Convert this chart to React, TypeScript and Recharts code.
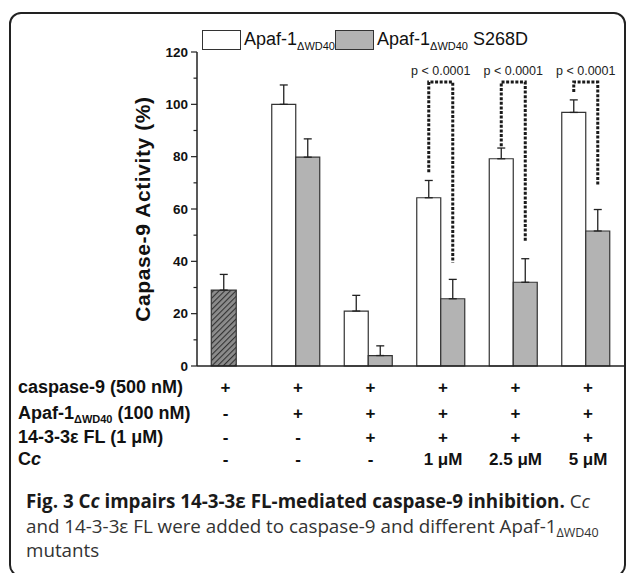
import { BarChart, Bar, XAxis, YAxis, ErrorBar, Rectangle, Label } from 'recharts';

// condition index along the x axis (columns of the table below the plot)
const conditions = [1, 2, 3, 4, 5, 6];

// caspase-9 alone (hatched bar)
const caspaseOnly = [29, null, null, null, null, null];
const caspaseOnlyErr = [6, null, null, null, null, null];

// Apaf-1 ΔWD40 (white) and Apaf-1 ΔWD40 S268D (grey)
const apafWT = [null, 100, 21, 64.3, 79.2, 96.9];
const apafWTErr = [null, 7.4, 6, 6.6, 4.1, 4.8];
const apafS268D = [null, 79.8, 4, 25.7, 32, 51.6];
const apafS268DErr = [null, 7, 3.7, 7.4, 9, 8.2];

// significance brackets (in % activity units)
const bracketTop = [null, null, null, 108.5, 108.5, 108.5];
const bracketLeftEnd = [null, null, null, 74, 84, 104.7];
const bracketRightEnd = [null, null, null, 39.5, 47.7, 68.8];
const pLabels = [null, null, null, 'p < 0.0001', 'p < 0.0001', 'p < 0.0001'];

// table rows under the plot
const rowLabels = ['caspase-9 (500 nM)', 'Apaf-1 (100 nM)', '14-3-3ε FL (1 μM)', 'Cc'];
const caspaseRow = ['+', '+', '+', '+', '+', '+'];
const apafRow = ['-', '+', '+', '+', '+', '+'];
const protRow = ['-', '-', '+', '+', '+', '+'];
const ccRow = ['-', '-', '-', '1 μM', '2.5 μM', '5 μM'];

const yTicks = [0, 10, 20, 30, 40, 50, 60, 70, 80, 90, 100, 110, 120];
const xDomain = [0.6345, 6.524];

const data = conditions.map((cond, i) => ({
  cond,
  ctrl: caspaseOnly[i],
  ctrlErr: caspaseOnlyErr[i] == null ? null : [0, caspaseOnlyErr[i]],
  wt: apafWT[i],
  wtErr: apafWTErr[i] == null ? null : [0, apafWTErr[i]],
  mut: apafS268D[i],
  mutErr: apafS268DErr[i] == null ? null : [0, apafS268DErr[i]],
  top: bracketTop[i],
  leftEnd: bracketLeftEnd[i],
  rightEnd: bracketRightEnd[i],
  p: pLabels[i],
}));

const AXIS = '#222';
const FONT = '"Liberation Sans", Arial, sans-serif';

const YTick = ({ x, y, payload }: any) => {
  const major = payload.value % 20 === 0;
  return (
    <g>
      <line x1={x - (major ? 6 : 3.5)} x2={x} y1={y} y2={y} stroke={AXIS} strokeWidth={1.2} />
      {major && (
        <text x={x - 9} y={y} textAnchor="end" dominantBaseline="central" fontFamily={FONT} fontWeight="bold" fontSize={13.5} fill="#111">
          {payload.value}
        </text>
      )}
    </g>
  );
};

const rows = [caspaseRow, apafRow, protRow, ccRow];
const rowOffsets = [21, 47, 71, 93];

const ConditionTick = ({ x, y, payload }: any) => {
  const i = conditions.indexOf(payload.value);
  return (
    <g>
      {rows.map((row, r) => (
        <text key={r} x={x + 2} y={y + rowOffsets[r]} textAnchor="middle" dominantBaseline="central" fontFamily={FONT} fontWeight="bold" fontSize={17} fill="#111">
          {row[i]}
        </text>
      ))}
    </g>
  );
};

const MutantBar = (props: any) => {
  const { x, y, width, height, payload } = props;
  const base = y + height;
  const k = payload.mut ? height / payload.mut : 0;
  const toY = (v: number) => base - v * k;
  let bracket = null;
  if (payload.top != null && k > 0) {
    const lx = x - width / 2;
    const rx = x + width / 2;
    bracket = (
      <g>
        <path
          d={`M${lx},${toY(payload.leftEnd)} V${toY(payload.top)} H${rx} V${toY(payload.rightEnd)}`}
          fill="none"
          stroke="#1a1a1a"
          strokeWidth={3}
          strokeDasharray="3 1.6"
        />
        <text x={x} y={toY(payload.top) - 11} textAnchor="middle" dominantBaseline="central" fontFamily={FONT} fontSize={12.5} fill="#222">
          {payload.p}
        </text>
      </g>
    );
  }
  return (
    <g>
      <Rectangle x={x} y={y} width={width} height={height} fill="#b3b3b3" stroke="#333" strokeWidth={1.2} />
      {bracket}
    </g>
  );
};

const YLabel = (props: any) => {
  const vb = props.viewBox;
  const cx = vb.x + 10;
  const cy = vb.y + vb.height / 2;
  return (
    <text x={cx} y={cy} transform={`rotate(-90 ${cx} ${cy})`} textAnchor="middle" dominantBaseline="central" fontFamily={FONT} fontWeight="bold" fontSize={21} letterSpacing={0.6} fill="#111">
      Capase-9 Activity (%)
    </text>
  );
};

const LegendItem = ({ left, fill, suffix }: { left: number; fill: string; suffix: string }) => (
  <div style={{ position: 'absolute', left, top: 29, display: 'flex', alignItems: 'center', fontFamily: FONT, fontSize: 18, color: '#111', whiteSpace: 'nowrap' }}>
    <div style={{ width: 37, height: 18, background: fill, border: '1px solid #333', marginRight: 3 }} />
    <span>
      Apaf-1<sub style={{ fontSize: 11, verticalAlign: -5, lineHeight: 0 }}>ΔWD40</sub>
      {suffix}
    </span>
  </div>
);

export default function App() {
  return (
    <div style={{ position: 'relative', width: 627, height: 573, overflow: 'hidden', background: '#fff' }}>
      <style>{'body{margin:0;overflow:hidden}'}</style>
      <div style={{ position: 'absolute', left: 9, top: 12, width: 617, height: 565, border: '2.5px solid #222', borderRadius: 12, boxSizing: 'border-box' }} />

      <LegendItem left={202} fill="#fff" suffix="" />
      <LegendItem left={335} fill="#b3b3b3" suffix=" S268D" />

      <div style={{ position: 'absolute', left: 0, top: 0 }}>
        <BarChart width={627} height={480} data={data} margin={{ top: 52, right: 3, left: 132, bottom: 0 }} barGap={0}>
          <defs>
            <pattern id="hatch" width={4} height={4} patternUnits="userSpaceOnUse" patternTransform="rotate(45)">
              <rect width={4} height={4} fill="#8c8c8c" />
              <line x1={0} y1={0} x2={0} y2={4} stroke="#333" strokeWidth={2.2} />
            </pattern>
          </defs>
          <XAxis xAxisId="main" dataKey="cond" type="number" domain={xDomain} ticks={conditions} interval={0} allowDataOverflow height={114} tickSize={0} tickMargin={0} tickLine={false} axisLine={{ stroke: AXIS, strokeWidth: 1.5 }} tick={<ConditionTick />} />
          <XAxis xAxisId="hatch" dataKey="cond" type="number" domain={xDomain} allowDataOverflow height={0} hide />
          <XAxis xAxisId="top" orientation="top" type="number" domain={xDomain} allowDataOverflow height={0} tick={false} tickLine={false} axisLine={{ stroke: AXIS, strokeWidth: 1.5 }} />
          <YAxis yAxisId="left" domain={[0, 120]} ticks={yTicks} interval={0} width={65} tickSize={0} tickMargin={0} tickLine={false} axisLine={{ stroke: AXIS, strokeWidth: 1.5 }} tick={<YTick />}>
            <Label content={<YLabel />} />
          </YAxis>
          <YAxis yAxisId="right" orientation="right" domain={[0, 120]} width={0} tick={false} tickLine={false} axisLine={{ stroke: AXIS, strokeWidth: 1.5 }} />
          <Bar xAxisId="hatch" yAxisId="left" dataKey="ctrl" barSize={25} fill="url(#hatch)" stroke="#333" strokeWidth={1.2} isAnimationActive={false}>
            <ErrorBar dataKey="ctrlErr" width={4} stroke="#222" strokeWidth={1.3} />
          </Bar>
          <Bar xAxisId="main" yAxisId="left" dataKey="wt" barSize={24} fill="#fff" stroke="#333" strokeWidth={1.2} isAnimationActive={false}>
            <ErrorBar dataKey="wtErr" width={4} stroke="#222" strokeWidth={1.3} />
          </Bar>
          <Bar xAxisId="main" yAxisId="left" dataKey="mut" barSize={24} fill="#b3b3b3" stroke="#333" strokeWidth={1.2} shape={<MutantBar />} isAnimationActive={false}>
            <ErrorBar dataKey="mutErr" width={4} stroke="#222" strokeWidth={1.3} />
          </Bar>
        </BarChart>
      </div>

      {rowLabels.map((label, r) => (
        <div key={label} style={{ position: 'absolute', left: 18, top: 366 + rowOffsets[r] - 12, height: 24, lineHeight: '24px', fontFamily: FONT, fontWeight: 'bold', fontSize: 18, color: '#111', whiteSpace: 'nowrap' }}>
          {r === 1 ? (
            <>
              Apaf-1<sub style={{ fontSize: 11, verticalAlign: -4, lineHeight: 0 }}>ΔWD40</sub> (100 nM)
            </>
          ) : r === 3 ? (
            <>
              C<i>c</i>
            </>
          ) : (
            label
          )}
        </div>
      ))}

      <div style={{ position: 'absolute', left: 26, top: 489, lineHeight: '24.5px', fontFamily: '"Open Sans", "Noto Sans", sans-serif', fontSize: 18.8, color: '#333', whiteSpace: 'nowrap' }}>
        <b style={{ color: '#1a1a1a' }}>
          Fig. 3 C<i>c</i> impairs 14-3-3ε FL-mediated caspase-9 inhibition.
        </b>{' '}
        C<i>c</i>
        <br />
        and 14-3-3ε FL were added to caspase-9 and different Apaf-1<sub style={{ fontSize: 12.5, verticalAlign: -4, lineHeight: 0 }}>ΔWD40</sub>
        <br />
        mutants
      </div>
    </div>
  );
}
